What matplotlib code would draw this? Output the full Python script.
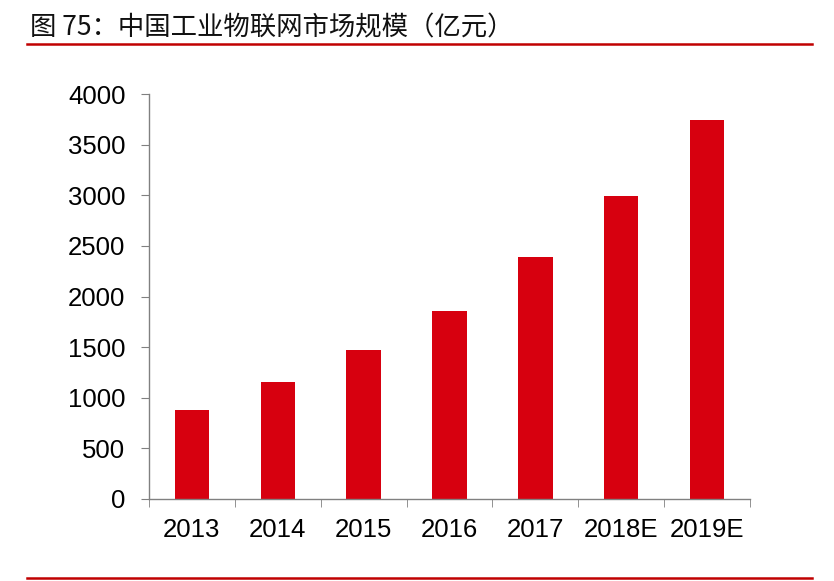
import matplotlib

matplotlib.use("Agg")
import matplotlib.pyplot as plt
from matplotlib.lines import Line2D

plt.rcParams["font.family"] = ["Liberation Sans", "DejaVu Sans"]

years = ["2013", "2014", "2015", "2016", "2017", "2018E", "2019E"]
market_size = [880, 1155, 1470, 1860, 2390, 2995, 3740]
title = "图 75：中国工业物联网市场规模（亿元）"

BAR_COLOR = "#D7000F"
LINE_COLOR = "#C00000"

fig = plt.figure(figsize=(8.34, 5.81), dpi=100)
ax = fig.add_axes([149 / 834, 1 - 499 / 581, (750 - 149) / 834, (499 - 94) / 581])

x = range(len(years))
ax.bar(x, market_size, width=0.4, color=BAR_COLOR, zorder=2)

ax.set_xlim(-0.5, len(years) - 0.5)
ax.set_ylim(0, 4000)
ax.set_yticks(range(0, 4001, 500))
ax.set_xticks(list(x))
ax.set_xticklabels(years)
ax.set_xticks([i - 0.5 for i in range(len(years) + 1)], minor=True)

for side in ("top", "right"):
    ax.spines[side].set_visible(False)
for side in ("left", "bottom"):
    ax.spines[side].set_color("#808080")
    ax.spines[side].set_linewidth(1.0)

ax.tick_params(axis="y", direction="out", length=6, color="#808080", labelsize=18.5, pad=11)
ax.tick_params(axis="x", which="major", length=0, labelsize=18.5, pad=14)
ax.tick_params(axis="x", which="minor", direction="out", length=6, color="#808080")

fig.text(30 / 834, 1 - 28 / 581, title, fontsize=19, va="center", ha="left",
         family=["Noto Sans CJK SC", "DejaVu Sans"], color="#111111")
fig.add_artist(Line2D([27 / 834, 812 / 834], [1 - 44 / 581, 1 - 44 / 581],
                      color=LINE_COLOR, linewidth=1.8, transform=fig.transFigure))
fig.add_artist(Line2D([27 / 834, 812 / 834], [1 - 578 / 581, 1 - 578 / 581],
                      color=LINE_COLOR, linewidth=1.8, transform=fig.transFigure))

fig.savefig("out.png", dpi=100)
